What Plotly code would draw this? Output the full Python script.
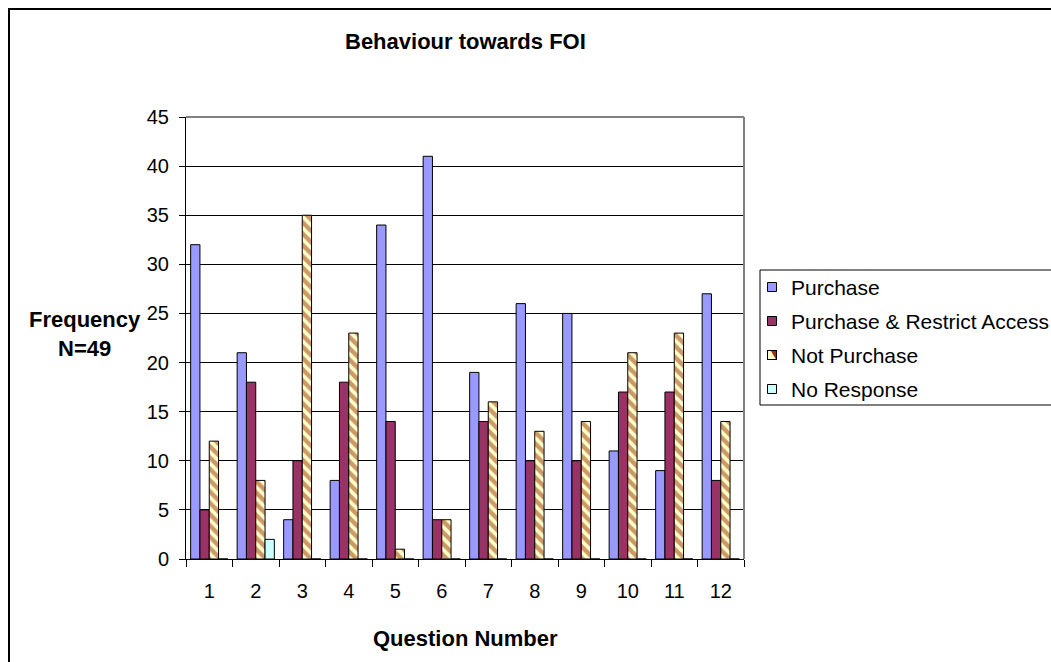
import plotly.graph_objects as go

# Survey answers per question (frequency of respondents, N=49)
questions = ["1", "2", "3", "4", "5", "6", "7", "8", "9", "10", "11", "12"]
series_names = ["Purchase", "Purchase & Restrict Access", "Not Purchase", "No Response"]
purchase = [32, 21, 4, 8, 34, 41, 19, 26, 25, 11, 9, 27]
purchase_restrict = [5, 18, 10, 18, 14, 4, 14, 10, 10, 17, 17, 8]
not_purchase = [12, 8, 35, 23, 1, 4, 16, 13, 14, 21, 23, 14]
no_response = [0, 2, 0, 0, 0, 0, 0, 0, 0, 0, 0, 0]

y_ticks = [0, 5, 10, 15, 20, 25, 30, 35, 40, 45]

W, H = 1051, 662
PL, PR, PT, PB = 186, 744, 117, 559  # plot area in pixels


def px_x(p):
    return (p - PL) / (PR - PL)


def px_y(p):
    return (PB - p) / (PB - PT)


FONT = "Liberation Sans, Arial, sans-serif"
outline = dict(color="black", width=1)
FILL = ["#9999FF", "#993366", "#FFFFCC", "#CCFFFF"]
STRIPE = "#993300"

fig = go.Figure()
fig.add_trace(go.Bar(name=series_names[0], x=questions, y=purchase,
                     marker=dict(color=FILL[0], line=outline)))
fig.add_trace(go.Bar(name=series_names[1], x=questions, y=purchase_restrict,
                     marker=dict(color=FILL[1], line=outline)))
fig.add_trace(go.Bar(name=series_names[2], x=questions, y=not_purchase,
                     marker=dict(color=FILL[2], line=outline,
                                 pattern=dict(shape="\\", fgcolor=STRIPE, bgcolor=FILL[2],
                                              size=8, solidity=0.55, fillmode="overlay"))))
fig.add_trace(go.Bar(name=series_names[3], x=questions, y=no_response,
                     marker=dict(color=FILL[3], line=outline)))

fig.update_layout(
    width=W, height=H,
    margin=dict(l=PL, r=W - PR, t=PT, b=H - PB, autoexpand=False),
    paper_bgcolor="white", plot_bgcolor="white",
    font=dict(family=FONT, size=20, color="black"),
    barmode="group", bargap=0.2, bargroupgap=0,
    showlegend=False,
)

fig.update_xaxes(type="category", tickson="boundaries", ticks="outside", ticklen=7,
                 tickcolor="black", showline=True, linecolor="black", linewidth=1,
                 showgrid=False, ticklabelstandoff=14,
                 tickfont=dict(family=FONT, size=20))
fig.update_yaxes(range=[0, 45], tickvals=y_ticks, ticks="outside", ticklen=6,
                 tickcolor="black", showline=True, linecolor="black", linewidth=1,
                 showgrid=True, gridcolor="black", gridwidth=1, zeroline=False,
                 ticklabelstandoff=6, tickfont=dict(family=FONT, size=20))

# plot-area border (top and right) and chart frame
fig.add_shape(type="line", xref="paper", yref="paper", x0=0, x1=1, y0=1, y1=1,
              line=dict(color="#808080", width=2), layer="above")
fig.add_shape(type="line", xref="paper", yref="paper", x0=1, x1=1, y0=0, y1=1,
              line=dict(color="#808080", width=2), layer="above")
fig.add_shape(type="rect", xref="paper", yref="paper",
              x0=px_x(9), x1=px_x(1080), y0=px_y(9), y1=px_y(690),
              line=dict(color="black", width=2), layer="below")

# legend box with swatches and labels
fig.add_shape(type="rect", xref="paper", yref="paper",
              x0=px_x(760), x1=px_x(1070), y0=px_y(270), y1=px_y(405),
              line=dict(color="black", width=1), fillcolor="white", layer="above")
row_y = [287, 321, 355, 389]
sw = 4.5
for i, name in enumerate(series_names):
    cy = row_y[i]
    x0, x1 = px_x(772 - sw), px_x(772 + sw)
    yt, yb = px_y(cy - sw), px_y(cy + sw)
    fig.add_shape(type="rect", xref="paper", yref="paper",
                  x0=x0, x1=x1, y0=yb, y1=yt,
                  line=dict(color="black", width=1), fillcolor=FILL[i], layer="above")
    if i == 2:
        # striped swatch: brown upper-right wedge over the pale fill
        fig.add_shape(type="path", xref="paper", yref="paper",
                      path=f"M {x0 + (x1 - x0) * 0.35} {yt} L {x1} {yt} "
                           f"L {x1} {yb} L {x1 - (x1 - x0) * 0.05} {yb} Z",
                      line=dict(width=0), fillcolor=STRIPE, layer="above")
        fig.add_shape(type="rect", xref="paper", yref="paper",
                      x0=x0, x1=x1, y0=yb, y1=yt,
                      line=dict(color="black", width=1), fillcolor="rgba(0,0,0,0)", layer="above")
    fig.add_annotation(text=name, xref="paper", yref="paper",
                       x=px_x(789), y=px_y(cy), showarrow=False,
                       xanchor="left", yanchor="middle", font=dict(family=FONT, size=21))

# titles
fig.add_annotation(text="<b>Behaviour towards FOI</b>", xref="paper", yref="paper",
                   x=px_x(465), y=px_y(42), showarrow=False,
                   xanchor="center", yanchor="middle", font=dict(family=FONT, size=22))
fig.add_annotation(text="<b>Question Number</b>", xref="paper", yref="paper",
                   x=px_x(465), y=px_y(638), showarrow=False,
                   xanchor="center", yanchor="middle", font=dict(family=FONT, size=22))
fig.add_annotation(text="<b>Frequency</b><br><b>N=49</b>", xref="paper", yref="paper",
                   x=px_x(85), y=px_y(334), showarrow=False, align="center",
                   xanchor="center", yanchor="middle", font=dict(family=FONT, size=22))

fig.write_html("out.html")
